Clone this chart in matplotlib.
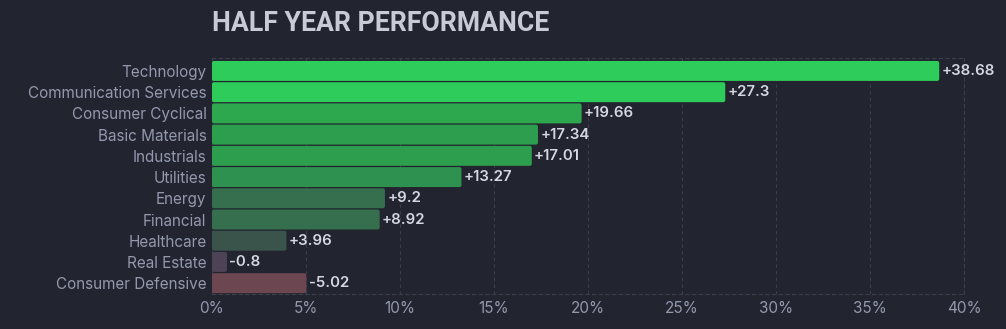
import matplotlib.pyplot as plt
from matplotlib.patches import FancyBboxPatch
from matplotlib.ticker import FuncFormatter, MultipleLocator

sectors = [
    "Technology",
    "Communication Services",
    "Consumer Cyclical",
    "Basic Materials",
    "Industrials",
    "Utilities",
    "Energy",
    "Financial",
    "Healthcare",
    "Real Estate",
    "Consumer Defensive",
]
performance = [38.68, 27.3, 19.66, 17.34, 17.01, 13.27, 9.2, 8.92, 3.96, -0.8, -5.02]
bar_colors = [
    "#2ecc5a", "#2ecc5a", "#2da84f", "#2c9e4e", "#2c9e4e", "#2f914f",
    "#356f4d", "#366f4d", "#3a534b", "#4d4357", "#6c4650",
]

BG = "#22252f"
GRID = "#3b3f4c"
TICK_TEXT = "#9398ad"
VALUE_TEXT = "#d4d6e0"

fig = plt.figure(figsize=(10.06, 3.29), dpi=100, facecolor=BG)
ax = fig.add_axes([0.2107, 0.1064, 0.7476, 0.7173], facecolor=BG)

bar_h = 0.94
# px per data unit, used to keep the corner rounding circular
x_px = 752 / 40
y_px = 21.22
for i, (name, val, col) in enumerate(zip(sectors, performance, bar_colors)):
    width = abs(val)
    patch = FancyBboxPatch(
        (0, i - bar_h / 2), width, bar_h,
        boxstyle="round,pad=0,rounding_size=0.11",
        mutation_aspect=x_px / y_px,
        facecolor=col, edgecolor="none", zorder=3,
    )
    ax.add_patch(patch)
    ax.text(width + 0.12, i, f"{val:+g}", va="center", ha="left",
            color=VALUE_TEXT, fontsize=10.8, fontfamily="Inter",
            fontweight="semibold", zorder=4)

ax.set_xlim(0, 40)
ax.set_ylim(10.51, -0.61)
ax.set_yticks(range(len(sectors)))
ax.set_yticklabels(sectors)
ax.xaxis.set_major_locator(MultipleLocator(5))
ax.xaxis.set_major_formatter(FuncFormatter(lambda v, _: f"{v:.0f}%"))

ax.tick_params(axis="both", length=0, colors=TICK_TEXT, labelsize=11)
ax.tick_params(axis="y", pad=4)
ax.tick_params(axis="x", pad=5)
for lab in ax.get_xticklabels() + ax.get_yticklabels():
    lab.set_fontfamily("Inter")

ax.grid(axis="x", color=GRID, linestyle=(0, (3, 3)), linewidth=0.8, zorder=0)
for side, spine in ax.spines.items():
    spine.set_color(GRID)
    spine.set_linestyle((0, (3, 3)))
    spine.set_linewidth(0.8)

fig.text(0.2107, 0.93, "HALF YEAR PERFORMANCE", ha="left", va="center",
         color="#c8cad6", fontsize=19.2, fontfamily="Roboto", fontweight="bold")

fig.savefig("out.png", dpi=100, facecolor=BG)
